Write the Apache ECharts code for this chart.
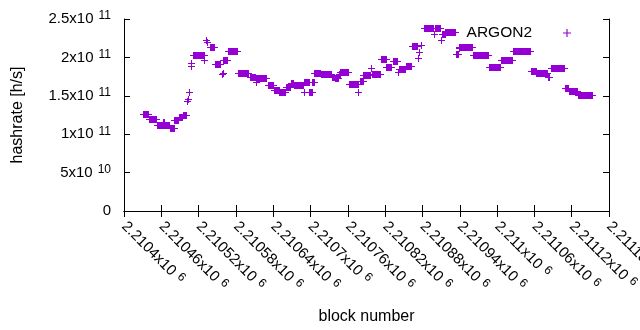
<!DOCTYPE html>
<html>
<head>
<meta charset="utf-8">
<script src="https://cdn.jsdelivr.net/npm/echarts@6/dist/echarts.min.js"></script>
<style>
html,body{margin:0;padding:0;background:#fff;}
#chart{width:640px;height:330px;}
</style>
</head>
<body>
<div id="chart"></div>
<script>
// Runs of consecutive blocks sharing the same hashrate estimate
var blockStart = [2210431,2210441,2210453,2210463,2210465,2210474,2210481,2210488,2210495,2210501,2210503,2210505,2210507,2210508,2210511,2210529,2210532,2210534,2210538,2210546,2210557,2210559,2210560,2210567,2210584,2210602,2210612,2210613,2210631,2210642,2210650,2210660,2210668,2210673,2210689,2210690,2210698,2210703,2210706,2210717,2210734,2210739,2210745,2210748,2210762,2210777,2210779,2210785,2210797,2210799,2210813,2210822,2210832,2210840,2210843,2210853,2210863,2210873,2210875,2210878,2210882,2210898,2210900,2210910,2210911,2210917,2210934,2210938,2210939,2210961,2210987,2211006,2211026,2211054,2211063,2211082,2211086,2211109,2211115,2211130];
var blockEnd   = [2210439,2210452,2210462,2210464,2210473,2210480,2210487,2210494,2210499,2210501,2210503,2210505,2210507,2210508,2210528,2210529,2210532,2210534,2210545,2210554,2210557,2210559,2210566,2210582,2210600,2210610,2210612,2210629,2210640,2210649,2210659,2210667,2210672,2210688,2210689,2210697,2210702,2210705,2210716,2210733,2210738,2210744,2210747,2210761,2210776,2210777,2210784,2210796,2210797,2210812,2210821,2210830,2210839,2210841,2210852,2210862,2210872,2210873,2210875,2210878,2210897,2210898,2210909,2210910,2210916,2210933,2210937,2210938,2210960,2210986,2211005,2211024,2211053,2211062,2211081,2211083,2211108,2211114,2211129,2211152];
var hashrate   = [1.259e11,1.194e11,1.126e11,1.163e11,1.12e11,1.087e11,1.185e11,1.22e11,1.25e11,1.43e11,1.46e11,1.553e11,1.89e11,1.93e11,2.027e11,1.96e11,2.23e11,2.20e11,2.131e11,1.91e11,1.78e11,1.80e11,1.962e11,2.079e11,1.793e11,1.749e11,1.68e11,1.728e11,1.637e11,1.572e11,1.546e11,1.615e11,1.673e11,1.637e11,1.553e11,1.676e11,1.553e11,1.684e11,1.793e11,1.78e11,1.749e11,1.736e11,1.78e11,1.814e11,1.65e11,1.55e11,1.693e11,1.771e11,1.858e11,1.78e11,1.975e11,1.879e11,1.949e11,1.814e11,1.845e11,1.884e11,2.144e11,1.988e11,2.066e11,2.161e11,2.379e11,2.30e11,2.383e11,2.227e11,2.30e11,2.327e11,2.04e11,2.126e11,2.129e11,2.03e11,1.871e11,1.962e11,2.079e11,1.823e11,1.803e11,1.74e11,1.858e11,1.608e11,1.556e11,1.504e11];

var seriesName = 'ARGON2';
var xMin = 2210400, xMax = 2211180, xStep = 60;
var yMin = 0, yMax = 2.5e11, yStep = 5e10;

var COLOR = '#9400d3';
var FONT = 'Liberation Sans, Arial, sans-serif';

function sciRich(v) {
  if (v === 0) return '{m|0}';
  var e = Math.floor(Math.log10(Math.abs(v)) + 1e-9);
  var m = parseFloat((v / Math.pow(10, e)).toFixed(6));
  return '{m|' + m + 'x10}{e|' + e + '}';
}
var richStyle = {
  m: {fontSize: 15, fontFamily: FONT, color: '#000', lineHeight: 18},
  e: {fontSize: 12, fontFamily: FONT, color: '#000', verticalAlign: 'top', lineHeight: 11, padding: [0, 0, 0, 5]}
};

var runs = blockStart.map(function (s, i) { return [s, blockEnd[i], hashrate[i]]; });

var chart = echarts.init(document.getElementById('chart'), null, {renderer: 'canvas'});
var option = {
  animation: false,
  backgroundColor: '#fff',
  grid: {left: 124, right: 31, top: 19, bottom: 119, show: false, containLabel: false, outerBoundsMode: 'none'},
  legend: {
    data: [{name: seriesName, icon: 'path://M3,0h1v3h3v1h-3v3h-1v-3h-3v-1h3z'}],
    right: 64, top: 20, align: 'right',
    itemWidth: 60, itemHeight: 8,
    textStyle: {fontSize: 15.5, fontFamily: FONT, color: '#000'}
  },
  xAxis: [{
    type: 'value', min: xMin, max: xMax, interval: xStep, position: 'bottom',
    name: 'block number', nameLocation: 'middle', nameGap: 98,
    nameTextStyle: {fontSize: 16, fontFamily: FONT, color: '#000'},
    axisLine: {show: true, lineStyle: {color: '#000', width: 1}},
    axisTick: {show: true, inside: true, length: 6, lineStyle: {color: '#000'}},
    splitLine: {show: false},
    axisLabel: {
      rotate: -45, margin: 13, showMinLabel: true, showMaxLabel: true, hideOverlap: false,
      formatter: function (v) {
        var m = parseFloat((v / 1e6).toFixed(5));
        return '{m|' + m + 'x10}{e|6}';
      },
      rich: richStyle
    }
  }, {
    type: 'value', min: xMin, max: xMax, interval: xStep, position: 'top',
    axisLine: {show: true, lineStyle: {color: '#000', width: 1}},
    axisTick: {show: true, inside: true, length: 6, lineStyle: {color: '#000'}},
    axisLabel: {show: false}, splitLine: {show: false}
  }],
  yAxis: [{
    type: 'value', min: yMin, max: yMax, interval: yStep, position: 'left',
    name: 'hashrate [h/s]', nameLocation: 'middle', nameGap: 98,
    nameTextStyle: {fontSize: 16, fontFamily: FONT, color: '#000'},
    axisLine: {show: true, lineStyle: {color: '#000', width: 1}},
    axisTick: {show: true, inside: true, length: 6, lineStyle: {color: '#000'}},
    splitLine: {show: false},
    axisLabel: {margin: 13, formatter: sciRich, rich: richStyle}
  }, {
    type: 'value', min: yMin, max: yMax, interval: yStep, position: 'right',
    axisLine: {show: true, lineStyle: {color: '#000', width: 1}},
    axisTick: {show: true, inside: true, length: 6, lineStyle: {color: '#000'}},
    axisLabel: {show: false}, splitLine: {show: false}
  }],
  series: [{
    name: seriesName,
    type: 'custom',
    xAxisIndex: 0, yAxisIndex: 0,
    itemStyle: {color: COLOR},
    encode: {x: [0, 1], y: 2},
    data: runs,
    clip: true,
    renderItem: function (params, api) {
      var v = api.value(2);
      var a = api.coord([api.value(0), v]);
      var b = api.coord([api.value(1), v]);
      var x0 = Math.round(a[0]), x1 = Math.round(b[0]), y = Math.round(a[1]);
      return {
        type: 'group',
        children: [
          {type: 'rect', shape: {x: x0, y: y - 3, width: x1 - x0 + 1, height: 7}, style: {fill: COLOR}},
          {type: 'rect', shape: {x: x0 - 3, y: y, width: x1 - x0 + 7, height: 1}, style: {fill: COLOR}}
        ]
      };
    }
  }]
};
chart.setOption(option);
</script>
</body>
</html>
